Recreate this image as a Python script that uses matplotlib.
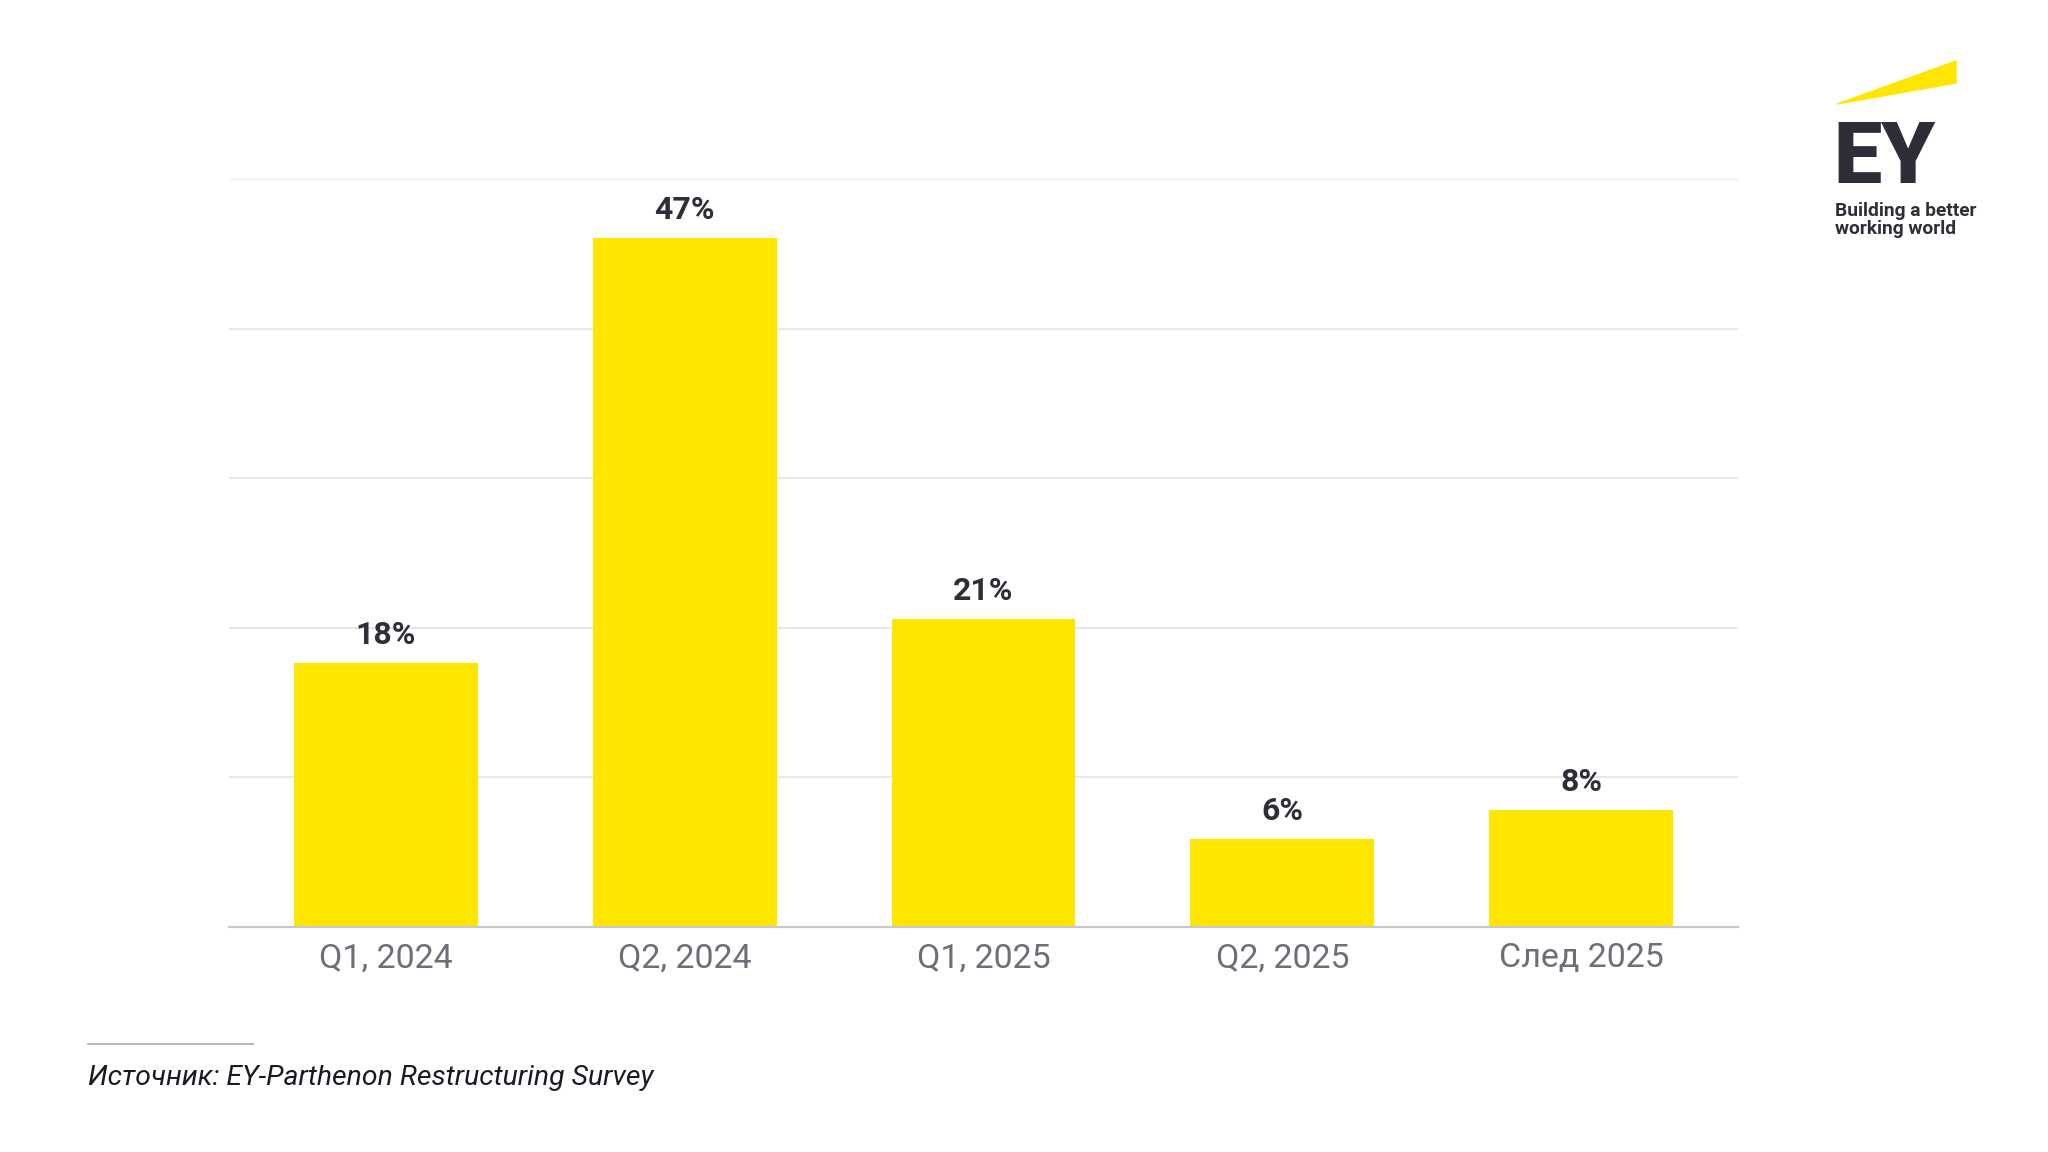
import numpy as np
import matplotlib.pyplot as plt
from matplotlib.patches import Polygon

# data
categories = ['Q1, 2024', 'Q2, 2024', 'Q1, 2025', 'Q2, 2025', 'След 2025']
values = [18, 47, 21, 6, 8]
source_text = 'Источник: EY-Parthenon Restructuring Survey'

YELLOW = '#FFE600'
DARK = '#2E2E38'
GREY = '#6E6E78'

W, H = 2048, 1152


def fx(px):
    return px / W


def fy(py):
    return 1 - py / H


def main():
    plt.rcParams['font.family'] = ['Roboto', 'DejaVu Sans']
    fig = plt.figure(figsize=(20.48, 11.52), dpi=100)
    fig.patch.set_facecolor('white')

    # axes box in pixels: left 229, right 1738, top 179, bottom 927
    ax = fig.add_axes([fx(229), fy(927), fx(1738) - fx(229), fy(179) - fy(927)])
    x = np.arange(len(categories))
    ax.bar(x, values, width=0.615, color=YELLOW, zorder=2)

    ax.set_xlim(-0.525, len(categories) - 0.475)
    ax.set_ylim(0, 51)
    ax.set_yticks(np.linspace(0, 51, 6))
    ax.yaxis.grid(True, color='#E4E4E4', linewidth=1.2, zorder=0)
    ax.set_yticklabels([])
    ax.tick_params(axis='y', length=0)
    ax.set_xticks(x)
    ax.set_xticklabels(categories, fontsize=24.5, color=GREY)
    ax.tick_params(axis='x', length=0, pad=11)

    for side in ['top', 'right', 'left']:
        ax.spines[side].set_visible(False)
    ax.spines['bottom'].set_color('#C8C8C8')
    ax.spines['bottom'].set_linewidth(1.6)
    ax.spines['bottom'].set_zorder(3)

    for xi, v in zip(x, values):
        ax.annotate(f'{v}%', (xi, v), xytext=(0, 20), textcoords='offset points',
                    ha='center', va='center', fontsize=23, fontweight='bold', color=DARK)

    # source line and note
    fig.add_artist(plt.Line2D([fx(88), fx(253)], [fy(1044), fy(1044)],
                              color='#AAAAAA', linewidth=1.2))
    fig.text(fx(88), fy(1078), source_text, fontsize=20.4, style='italic',
             color='#1A1A24', ha='left', va='center')

    # EY logo
    beam = Polygon([[fx(1837), fy(104)], [fx(1956), fy(61)], [fx(1956), fy(83)]],
                   closed=True, transform=fig.transFigure, color=YELLOW)
    fig.add_artist(beam)
    fig.text(fx(1833), fy(183), 'EY', fontsize=62, fontweight='black', color=DARK,
             ha='left', va='baseline')
    fig.text(fx(1835), fy(211), 'Building a better', fontsize=13.8, fontweight='bold',
             color=DARK, ha='left', va='center')
    fig.text(fx(1835), fy(229), 'working world', fontsize=13.8, fontweight='bold',
             color=DARK, ha='left', va='center')

    fig.savefig('out.png', dpi=100, facecolor='white')


if __name__ == "__main__":
    main()
